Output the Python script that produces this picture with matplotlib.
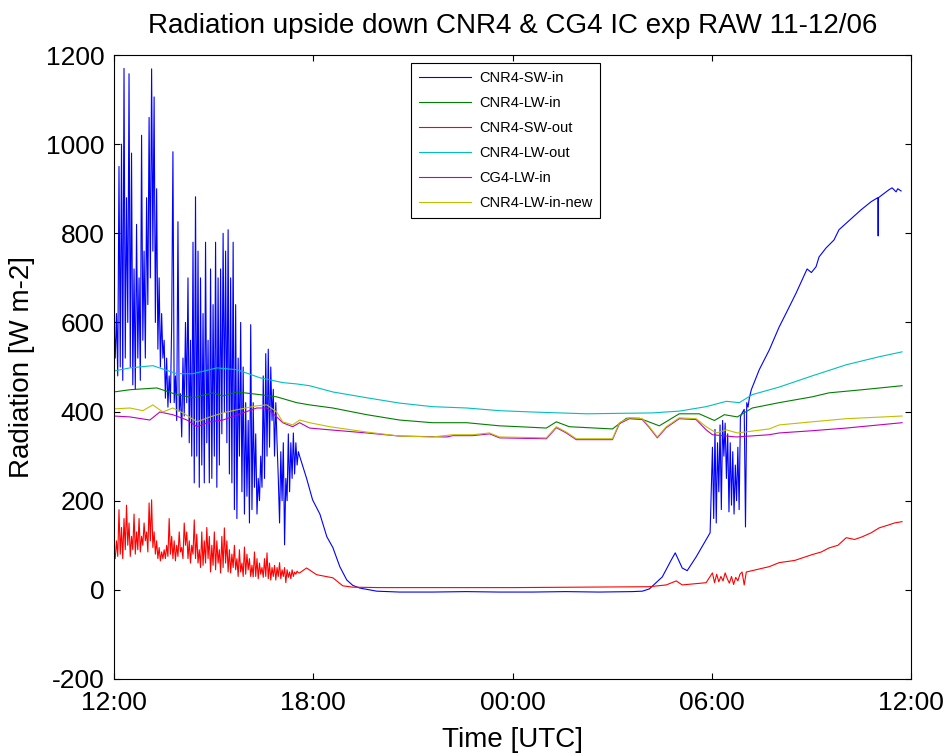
import numpy as np
import matplotlib
matplotlib.use('Agg')
import matplotlib.pyplot as plt

# time axis: hours after 11-12/06 12:00 UTC
tick_hours = [0, 6, 12, 18, 24]
tick_labels = ['12:00', '18:00', '00:00', '06:00', '12:00']

# --- CNR4-SW-in ---
# noisy afternoon part, evenly sampled between 0 and 5.59 h
sw_in_noisy_span = (0.0, 5.59)
sw_in_noisy = [
    600, 520, 620, 480, 950, 500, 1000, 470,
    1170, 520, 880, 600, 1158, 500, 980, 460,
    720, 450, 820, 520, 700, 470, 1020, 560,
    760, 520, 880, 640, 1060, 700, 1169, 760,
    1106, 600, 900, 540, 700, 500, 620, 520,
    560, 430, 520, 410, 480, 420, 600, 983,
    420, 480, 380, 826, 400, 440, 343, 520,
    390, 600, 420, 700, 330, 560, 300, 780,
    240, 882, 300, 760, 230, 700, 280, 620,
    240, 780, 330, 560, 240, 720, 250, 640,
    300, 780, 230, 700, 280, 720, 350, 800,
    400, 760, 330, 808, 260, 700, 240, 780,
    180, 640, 160, 520, 300, 600, 220, 500,
    170, 420, 210, 380, 150, 595, 180, 420,
    230, 350, 170, 250, 200, 300, 230, 480,
    250, 530, 300, 540, 320, 500, 380, 450,
    300, 420, 330, 250, 150, 310, 200, 330,
    101, 250, 200, 350, 220, 330, 250, 352,
    260, 330, 280, 310, 300]
sw_in_night_t = [5.8, 5.98, 6.2, 6.41, 6.59, 6.8, 7.01, 7.19, 7.4, 7.91, 8.6, 9.59,
                 10.6, 11.6, 12.6, 13.6, 14.6, 15.6, 15.91, 16.12, 16.51, 16.78,
                 16.9, 17.11, 17.26, 17.53, 17.77, 17.95]
sw_in_night_v = [250, 202, 170, 119, 95, 52, 22, 10, 4, -3, -5, -5,
                 -4, -5, -5, -4, -5, -4, -3, 2, 29, 67,
                 83, 49, 43, 74, 105, 128]
sw_in_morning_span = (18.02, 19.13)
sw_in_morning_noisy = [320, 160, 360, 150, 330, 220, 370, 180, 380, 300,
                       374, 250, 350, 175, 330, 190, 310, 170, 280, 200,
                       320, 180, 388, 395, 400, 405, 141, 420, 410, 430]
sw_in_day_t = [19.19, 19.43, 19.73, 20.03, 20.24, 20.54, 20.87, 21.0, 21.14, 21.23,
               21.44, 21.68, 21.83, 22.23, 22.5, 22.8, 23.0, 23.01, 23.02, 23.34,
               23.43, 23.55, 23.6, 23.7]
sw_in_day_v = [449, 494, 538, 590, 621, 666, 720, 712, 725, 747,
               767, 785, 808, 835, 853, 871, 880, 794, 880, 898,
               902, 893, 900, 895]

# --- CNR4-LW-in ---
lw_in_t = [0, 0.48, 1.29, 1.89, 2.38, 2.98, 3.28, 3.7, 4.39, 4.9, 5.5, 5.89, 6.59,
           7.61, 8.6, 9.59, 10.62, 11.61, 12.21, 13.02, 13.32, 13.71, 15.01, 15.43,
           15.82, 16.42, 17.02, 17.62, 18.08, 18.38, 18.77, 19.22, 20.03, 21.02,
           21.53, 22.53, 23.73]
lw_in_v = [444, 449, 453, 438, 431, 442, 435, 444, 438, 433, 420, 415, 408,
           393, 381, 375, 375, 368, 366, 363, 377, 366, 361, 385,
           385, 368, 395, 395, 380, 393, 388, 408, 420, 433,
           442, 449, 458]

# --- CNR4-SW-out ---
sw_out_noisy_span = (0.0, 5.59)
sw_out_noisy = [
    90, 70, 110, 75, 180, 80, 140, 70,
    160, 90, 190, 100, 150, 75, 120, 90,
    170, 80, 130, 90, 160, 85, 120, 100,
    150, 110, 130, 85, 195, 110, 202, 95,
    130, 80, 110, 70, 95, 65, 85, 70,
    90, 70, 100, 75, 160, 80, 120, 70,
    110, 65, 100, 75, 130, 85, 95, 70,
    150, 100, 130, 70, 110, 60, 100, 80,
    157, 70, 125, 60, 90, 50, 130, 55,
    110, 60, 140, 70, 120, 40, 100, 55,
    130, 45, 110, 60, 90, 38, 120, 50,
    139, 60, 110, 40, 90, 38, 80, 50,
    100, 45, 70, 30, 90, 40, 60, 30,
    96, 35, 80, 45, 70, 30, 55, 29,
    85, 30, 70, 25, 60, 35, 50, 28,
    70, 30, 83, 25, 60, 22, 50, 30,
    55, 22, 50, 30, 61, 25, 45, 30,
    50, 16, 45, 28, 40, 25, 45, 30,
    40, 35, 42, 38, 38]
sw_out_night_t = [5.8, 6.1, 6.59, 6.89, 7.19, 8, 10, 12, 14, 16.12, 16.63, 16.93, 17.11, 17.83]
sw_out_night_v = [49, 34, 27, 9, 6, 5, 5, 5, 6, 7, 11, 20, 11, 16]
sw_out_morning_span = (18.02, 19.04)
sw_out_morning_noisy = [38, 16, 35, 18, 30, 20, 38, 25, 15, 30, 12, 28, 20, 35, 40, 11, 40]
sw_out_day_t = [19.73, 20.03, 20.5, 21.02, 21.3, 21.53, 21.8, 22.05, 22.3, 22.53,
                22.8, 23.04, 23.3, 23.5, 23.73]
sw_out_day_v = [52, 61, 66, 79, 85, 94, 100, 117, 113, 119,
                128, 139, 145, 150, 153]

# --- CNR4-LW-out ---
lw_out_t = [0, 0.48, 1.17, 1.89, 2.38, 3.1, 3.7, 4.39, 5.08, 5.5, 5.89, 6.59, 7.61,
            8.6, 9.59, 10.62, 11.61, 12.6, 14.23, 16.21, 17.02, 17.83, 18.44, 18.83,
            19.22, 20.03, 21.02, 22.05, 23.04, 23.73]
lw_out_v = [491, 498, 503, 485, 485, 498, 494, 476, 465, 462, 458, 444, 431,
            419, 411, 408, 402, 399, 395, 397, 401, 411, 423, 420,
            438, 455, 480, 505, 523, 534]

# --- CG4-LW-in ---
cg4_t = [0, 0.48, 1.08, 1.38, 1.77, 2.2, 2.5, 2.89, 3.28, 3.88, 4.3, 4.6, 4.9, 5.08,
         5.38, 5.59, 5.89, 6.5, 7.61, 8.6, 10.02, 10.2, 10.8, 11.31, 11.61, 13.02,
         13.32, 13.62, 13.92, 15.01, 15.22, 15.52, 15.91, 16.12, 16.36, 16.63, 17.02,
         17.53, 17.83, 18.02, 18.74, 19.73, 20.03, 21.02, 22.05, 23.73]
cg4_v = [390, 388, 381, 399, 393, 381, 366, 377, 381, 397, 408, 408, 388, 375,
         366, 375, 363, 359, 352, 345, 343, 346, 346, 350, 341, 339,
         364, 352, 337, 337, 373, 384, 382, 364, 341, 364, 384,
         382, 359, 348, 343, 348, 352, 357, 363, 375]

# --- CNR4-LW-in-new ---
lw_new_t = [0, 0.48, 0.87, 1.17, 1.47, 1.77, 2.08, 2.5, 2.89, 3.28, 3.7, 4.3, 4.6, 4.9,
            5.08, 5.38, 5.59, 5.89, 6.5, 7.61, 8.6, 9.59, 10.2, 10.8, 11.31, 11.61,
            13.02, 13.32, 13.62, 13.92, 15.01, 15.22, 15.52, 15.91, 16.12, 16.36,
            16.63, 17.02, 17.53, 17.83, 18.14, 18.44, 18.77, 19.73, 20.03, 21.02,
            22.05, 23.73]
lw_new_v = [406, 408, 402, 415, 399, 408, 397, 377, 388, 397, 404, 413, 415, 399,
            377, 370, 381, 375, 366, 354, 345, 343, 348, 348, 352, 343,
            341, 366, 354, 339, 339, 375, 386, 384, 366, 343,
            366, 386, 384, 366, 352, 359, 352, 361, 370, 377,
            384, 390]


def noisy_times(span, values):
    return np.linspace(span[0], span[1], len(values))


sw_in_t = np.concatenate([noisy_times(sw_in_noisy_span, sw_in_noisy), sw_in_night_t,
                          noisy_times(sw_in_morning_span, sw_in_morning_noisy), sw_in_day_t])
sw_in_v = np.concatenate([sw_in_noisy, sw_in_night_v, sw_in_morning_noisy, sw_in_day_v])
sw_out_t = np.concatenate([noisy_times(sw_out_noisy_span, sw_out_noisy), sw_out_night_t,
                           noisy_times(sw_out_morning_span, sw_out_morning_noisy), sw_out_day_t])
sw_out_v = np.concatenate([sw_out_noisy, sw_out_night_v, sw_out_morning_noisy, sw_out_day_v])

plt.rcParams['font.family'] = ['Liberation Sans', 'DejaVu Sans']
plt.rcParams['axes.unicode_minus'] = False

fig = plt.figure(figsize=(9.49, 7.56), dpi=100)
ax = fig.add_axes([0.1201, 0.1019, 0.8399, 0.8253])

lw = 0.8
ax.plot(sw_in_t, sw_in_v, color=(0, 0, 1), lw=lw, label='CNR4-SW-in')
ax.plot(lw_in_t, lw_in_v, color=(0, 0.5, 0), lw=lw, label='CNR4-LW-in')
ax.plot(sw_out_t, sw_out_v, color=(1, 0, 0), lw=lw, label='CNR4-SW-out')
ax.plot(lw_out_t, lw_out_v, color=(0, 0.75, 0.75), lw=lw, label='CNR4-LW-out')
ax.plot(cg4_t, cg4_v, color=(0.75, 0, 0.75), lw=lw, label='CG4-LW-in')
ax.plot(lw_new_t, lw_new_v, color=(0.75, 0.75, 0), lw=lw, label='CNR4-LW-in-new')

ax.set_xlim(0, 24)
ax.set_ylim(-200, 1200)
ax.set_xticks(tick_hours)
ax.set_xticklabels(tick_labels)
ax.set_yticks(range(-200, 1201, 200))
ax.tick_params(direction='in', top=True, right=True, length=4.5, width=0.8,
               labelsize=19)
ax.tick_params(axis='y', pad=7)
ax.tick_params(axis='x', pad=9)
for s in ax.spines.values():
    s.set_linewidth(0.8)

ax.set_title('Radiation upside down CNR4 & CG4 IC exp RAW 11-12/06', fontsize=20, pad=16)
ax.set_xlabel('Time [UTC]', fontsize=20, labelpad=8)
ax.set_ylabel('Radiation [W m-2]', fontsize=20, labelpad=8)

leg = ax.legend(loc='upper left', bbox_to_anchor=(0.3726, 0.987), fontsize=10.5,
                frameon=True, fancybox=False, edgecolor='k', framealpha=1,
                handlelength=3.6, handletextpad=0.5, labelspacing=0.75,
                borderpad=0.55, borderaxespad=0)
leg.get_frame().set_linewidth(0.8)

fig.savefig('out.png', dpi=100)
